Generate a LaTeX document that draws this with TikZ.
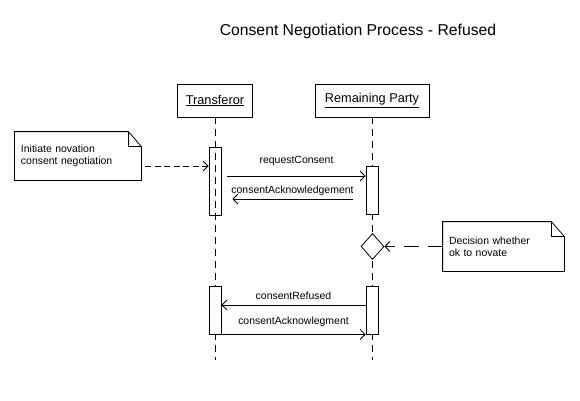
\documentclass[tikz,border=0pt]{standalone}
\usepackage{fontspec}
\setmainfont{Liberation Sans}
\usetikzlibrary{arrows.meta,shapes.geometric}

\begin{document}
\begin{tikzpicture}[x=1bp,y=-1bp,line width=0.8bp,
	head/.style={draw,fill=white,minimum height=33bp,inner sep=0pt,font=\fontsize{12.8}{15}\selectfont},
	act/.style={draw,fill=white,minimum width=12bp,inner sep=0pt},
	life/.style={dash pattern=on 7bp off 5bp},
	msg/.style={-{Straight Barb[length=5bp,width=10bp]}},
	lbl/.style={font=\fontsize{10.5}{12}\selectfont,anchor=base,inner sep=0pt},
	note/.style={align=left,inner xsep=6bp,inner ysep=0pt,font=\fontsize{10.5}{12}\selectfont},
	link/.style={msg,dash pattern=on 6bp off 3.5bp}]
	\useasboundingbox (0,0) rectangle (580,400);
	\node[font=\fontsize{15.8}{19}\selectfont,anchor=base] (title) at (358,35) {Consent Negotiation Process - Refused};
	% lifelines
	\node[head,minimum width=75bp] (trans) at (215,100.5) {\underline{Transferor}};
	\node[head,minimum width=114bp] (party) at (372,100.5) {\underline{Remaining Party}};
	\coordinate (transend) at (215,360);
	\coordinate (partyend) at (372,360);
	\draw[life] (trans.south) -- (transend);
	\draw[life] (party.south) -- (partyend);
	% activations
	\node[act,fill=none,minimum height=68bp] (a1) at (215,181) {};
	\node[act,minimum height=48bp] (b1) at (372,190) {};
	\node[act,minimum height=48bp] (a2) at (215,310) {};
	\node[act,minimum height=48bp] (b2) at (372,310) {};
	\node[draw,fill=white,diamond,minimum width=23bp,minimum height=26bp,inner sep=0pt] (dec) at (372.5,246.5) {};
	% notes
	\node[note,text width=114bp,minimum height=48bp] (initnote) at (78,156) {Initiate novation\\consent negotiation};
	\draw (initnote.north west) -- ([xshift=-13bp]initnote.north east) -- ([yshift=-15bp]initnote.north east)
		-- (initnote.south east) -- (initnote.south west) -- cycle;
	\draw ([xshift=-13bp]initnote.north east) |- ([yshift=-15bp]initnote.north east);
	\node[note,text width=109bp,minimum height=49bp] (decnote) at (503.5,246.5) {Decision whether\\ok to novate};
	\draw (decnote.north west) -- ([xshift=-13bp]decnote.north east) -- ([yshift=-15bp]decnote.north east)
		-- (decnote.south east) -- (decnote.south west) -- cycle;
	\draw ([xshift=-13bp]decnote.north east) |- ([yshift=-15bp]decnote.north east);
	\draw[link] ([shift={(4,10)}]initnote.east) -- ([shift={(0,-15)}]a1.west);
	\draw[msg,dash pattern=on 15bp off 9bp] (decnote.west) -- (dec.east);
	% messages
	\draw[msg] ([shift={(6,-5)}]a1.east) -- node[lbl,yshift=12.5bp] (reqlbl) {requestConsent} ([shift={(0,-14)}]b1.west);
	\draw[msg] ([shift={(-13,9)}]b1.west) -- node[lbl,yshift=5.5bp] (acklbl) {consentAcknowledgement} ([shift={(11,18)}]a1.east);
	\draw[msg] ([shift={(0,-5)}]b2.west) -- node[lbl,yshift=5.5bp] (reflbl) {consentRefused} ([shift={(0,-5)}]a2.east);
	\draw[msg] (a2.south east) -- node[lbl,yshift=9.5bp] (ack2lbl) {consentAcknowlegment} (b2.south west);
\end{tikzpicture}
\end{document}
